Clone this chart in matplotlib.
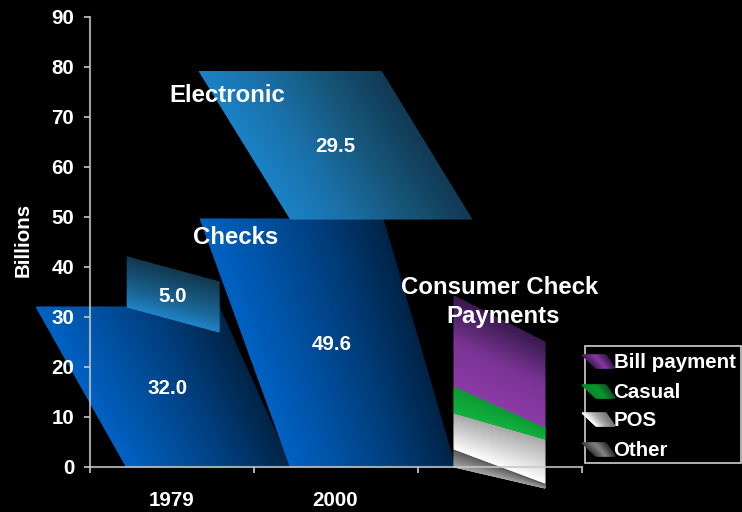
import numpy as np
import matplotlib
matplotlib.use("Agg")
import matplotlib.pyplot as plt
from matplotlib.colors import LinearSegmentedColormap as LSC
from matplotlib.patches import Rectangle

plt.rcParams['font.family'] = ['Liberation Sans', 'DejaVu Sans']
plt.rcParams['font.weight'] = 'bold'

# ---- data ----
categories = ['1979', '2000', '']
y_ticks = [0, 10, 20, 30, 40, 50, 60, 70, 80, 90]
checks = [32.0, 49.6]
electronic_1979 = 5.0
electronic_2000 = 29.5
legend_names = ['Bill payment', 'Casual', 'POS', 'Other']
# consumer stack as read on the left and right edge of the slanted band (bottom to top)
consumer_left = [3.6, 7.2, 5.4, 18.0]    # Other, POS, Casual, Bill payment
consumer_right = [1.0, 8.8, 2.4, 17.0]
consumer_right_base = -4.2
box_1979_left = [32.0, 42.0]     # drawn extents of the 5.0 band
box_1979_right = [27.0, 37.0]

# ---- style ----
W, H = 742, 512
C_BLUE = ['#0062c4', '#0050a0', '#003c78', '#002448']
C_ELEC = ['#1a82c6', '#1a6fa6', '#165578', '#113a55']
C_5 = ['#2084c8', '#1a6797', '#164f74', '#113a52']
C_CONS = [['#a8a8a8', '#5a5a5a'], ['#ffffff', '#a9a9a9'], ['#12b23e', '#0c9a34'], ['#8d3aa8', '#7a3494', '#3a1a50']]
C_KEYS = [['#4c2060', '#8d3aa8', '#3a1a50'], ['#0a8a2a', '#0a9a30', '#0a5a20'],
          ['#ffffff', '#aaaaaa', '#777777'], ['#444444', '#888888', '#333333']]
AX_COL = '#c8c8c8'
FS = 14.8

fig = plt.figure(figsize=(W / 100, H / 100), dpi=100, facecolor='black')
ax = fig.add_axes([89.5 / W, (H - 467) / H, 492 / W, 450 / H], facecolor='none')
ax.set_xlim(-0.5, 2.5)
ax.set_ylim(0, 90)


def quad(x_lb, x_rb, x_rt, x_lt, y_lb, y_rb, y_rt, y_lt, colors, vertical=False, z=1.0):
    n = 40
    u, v = np.meshgrid(np.linspace(0, 1, n), np.linspace(0, 1, n))
    X = (1 - v) * ((1 - u) * x_lb + u * x_rb) + v * ((1 - u) * x_lt + u * x_rt)
    Y = (1 - v) * ((1 - u) * y_lb + u * y_rb) + v * ((1 - u) * y_lt + u * y_rt)
    cmap = LSC.from_list('g', colors)
    m = ax.pcolormesh(X, Y, v if vertical else u, cmap=cmap, shading='gouraud',
                      vmin=0, vmax=1, clip_on=False, zorder=z)
    return m


# Checks bars
shift = dict(lb=-0.275, rb=0.73, rt=0.29, lt=-0.825)
quad(0 + shift['lb'], 0 + shift['rb'], 0 + shift['rt'], 0 + shift['lt'],
     0, 0, checks[0], checks[0], C_BLUE, z=1.0)
quad(1 + shift['lb'], 1 + shift['rb'], 1 + shift['rt'], 1 + shift['lt'],
     0, 0, checks[1], checks[1], C_BLUE, z=1.0)
# Electronic 2000
quad(1 - 0.275, 1 + 0.83, 1 + 0.28, 1 - 0.83,
     checks[1], checks[1], checks[1] + electronic_2000, checks[1] + electronic_2000, C_ELEC, z=1.1)
# Electronic 1979
quad(-0.27, 0.29, 0.29, -0.27,
     box_1979_left[0], box_1979_right[0], box_1979_right[1], box_1979_left[1], C_5, vertical=True, z=1.2)

# Consumer stack
yl = np.concatenate([[0], np.cumsum(consumer_left)])
yr = consumer_right_base + np.concatenate([[0], np.cumsum(consumer_right)])
for i in range(4):
    quad(2 - 0.277, 2 + 0.277, 2 + 0.277, 2 - 0.277,
         yl[i], yr[i], yr[i + 1], yl[i + 1], C_CONS[i], vertical=True, z=1.3)

# Axes
for s in ('top', 'right'):
    ax.spines[s].set_visible(False)
for s in ('left', 'bottom'):
    ax.spines[s].set_color(AX_COL)
    ax.spines[s].set_linewidth(1.5)
    ax.spines[s].set_alpha(0.8)
ax.set_yticks(y_ticks)
ax.set_xticks([-0.5, 0.5, 1.5, 2.5])
ax.set_xticklabels([])
ax.set_xticks([0, 1, 2], categories, minor=True)
ax.tick_params(axis='y', colors=AX_COL, labelcolor='white', labelsize=FS, length=4.4, width=1.2, pad=6.5)
ax.tick_params(axis='x', which='major', colors=AX_COL, length=4.4, width=1.2)
ax.tick_params(axis='x', which='minor', length=0, labelcolor='white', labelsize=FS, pad=17)
ax.set_ylabel('Billions', color='white', fontsize=FS, fontweight='bold')
ax.yaxis.set_label_coords((33 - 89.5) / 492, (467 - 240) / 450)


def txt(x, y, s, size=FS, ha='center'):
    fig.text(x / W, 1 - y / H, s, color='white', fontsize=size, fontweight='bold',
             ha=ha, va='center', zorder=5)


# Value labels
txt(168, 389, f'{checks[0]:.1f}')
txt(173, 296, f'{electronic_1979:.1f}')
txt(332, 345, f'{checks[1]:.1f}')
txt(335, 147, f'{electronic_2000:.1f}')
# Annotations
txt(227, 95, 'Electronic', 17.3)
txt(236, 238, 'Checks', 17.3)
txt(500, 287, 'Consumer Check', 17.3)
txt(503, 316, 'Payments', 17.3)

# Legend
fig.add_artist(Rectangle((585 / W, 1 - 463 / H), 156 / W, 117 / H, transform=fig.transFigure,
                         fill=False, edgecolor='#d0d0d0', linewidth=1.2, zorder=3))
key_y = [355, 385, 413, 443]
for name, y0, cols in zip(legend_names, key_y, C_KEYS):
    n = 30
    u, v = np.meshgrid(np.linspace(0, 1, n), np.linspace(0, 1, n))
    xt0, xt1, xb0, xb1 = 582, 606, 596, 615
    X = (1 - v) * ((1 - u) * xt0 + u * xt1) + v * ((1 - u) * xb0 + u * xb1)
    Y = y0 + 13 * v
    axk = fig.add_axes([0, 0, 1, 1], facecolor='none', zorder=4)
    axk.set_xlim(0, W)
    axk.set_ylim(H, 0)
    axk.axis('off')
    axk.pcolormesh(X, Y, u, cmap=LSC.from_list('k', cols), shading='gouraud', vmin=0, vmax=1)
    txt(613.5, y0 + 7, name, FS, ha='left')

fig.savefig('out.png', dpi=100, facecolor='black')
